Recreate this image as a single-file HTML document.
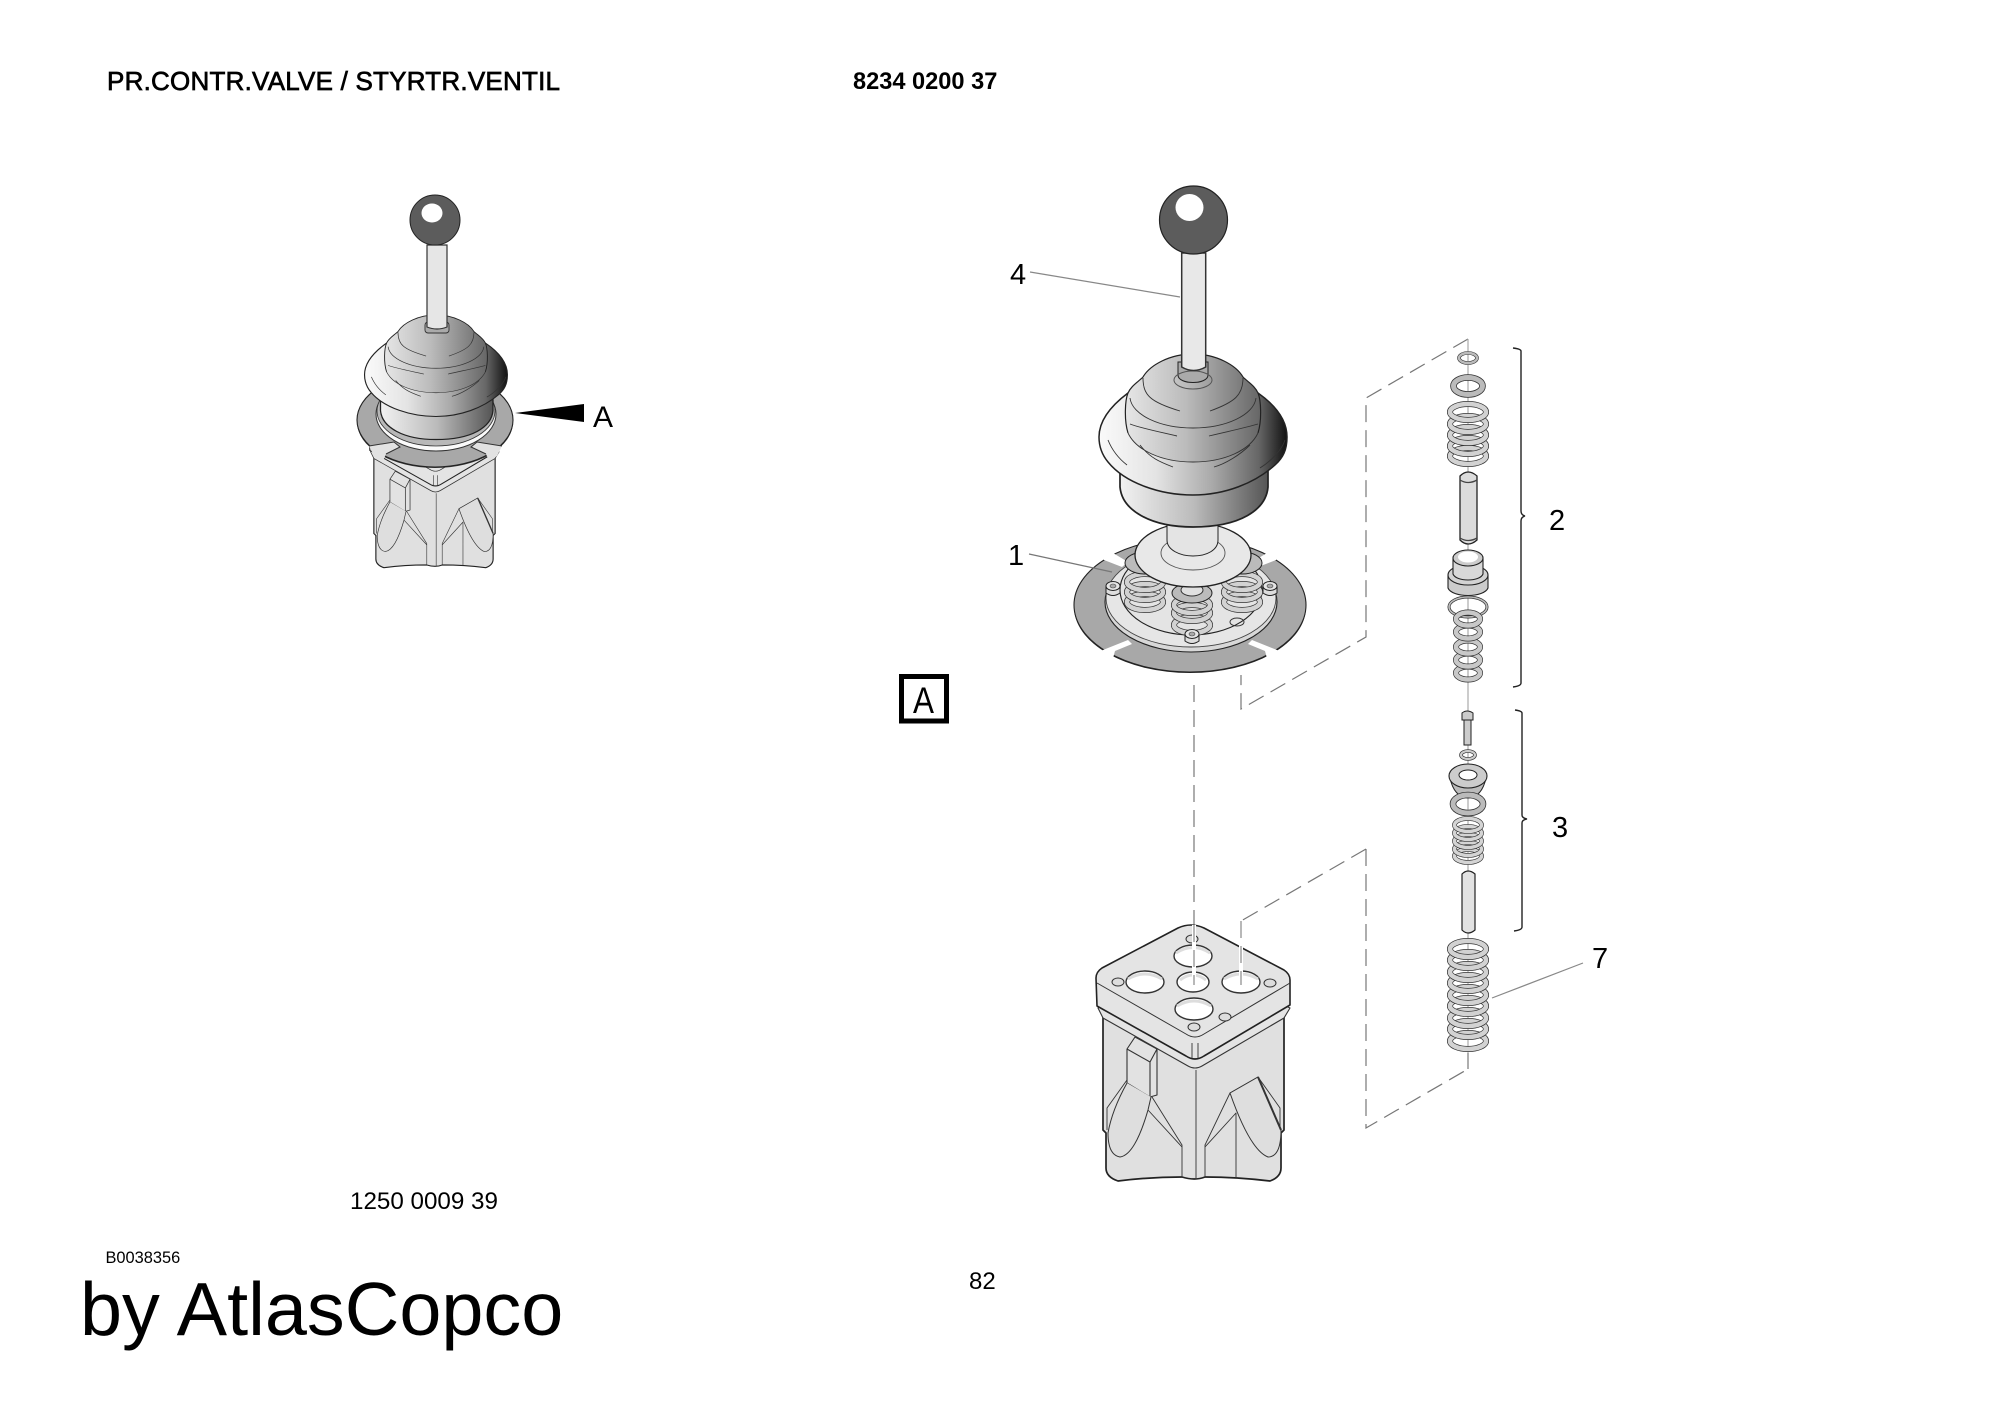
<!DOCTYPE html>
<html><head><meta charset="utf-8"><title>PR.CONTR.VALVE</title>
<style>html,body{margin:0;padding:0;background:#fff}svg{display:block}text{font-family:"Liberation Sans",Arial,sans-serif;fill:#000}</style></head>
<body>
<svg xmlns="http://www.w3.org/2000/svg" width="2000" height="1414" viewBox="0 0 2000 1414">
<defs>
<linearGradient id="gF" x1="0" x2="1" y1="0" y2="0"><stop offset="0" stop-color="#fafafa"/><stop offset=".3" stop-color="#e4e4e4"/><stop offset=".6" stop-color="#aaa"/><stop offset=".85" stop-color="#666"/><stop offset="1" stop-color="#111"/></linearGradient>
<linearGradient id="gD" x1="0" x2="1" y1="0" y2="0"><stop offset="0" stop-color="#e6e6e6"/><stop offset=".45" stop-color="#bbb"/><stop offset="1" stop-color="#666"/></linearGradient>
<linearGradient id="gC" x1="0" x2="1" y1="0" y2="0"><stop offset="0" stop-color="#f2f2f2"/><stop offset=".5" stop-color="#bbb"/><stop offset="1" stop-color="#555"/></linearGradient>
<g id="body" fill="none" stroke="#333" stroke-width="1.1" stroke-linejoin="round">
<path d="M1103,1015V1130L1106,1133V1168Q1106,1177 1118,1181Q1150,1177 1182,1177Q1195,1181 1205,1177Q1237,1177 1270,1181Q1281,1177 1281,1168V1133L1284,1130V1015Z" fill="#e0e0e0" stroke="#222" stroke-width="1.7"/>
<path d="M1098,1008L1103,1018L1188,1066Q1195,1070 1202,1066L1284,1018L1290,1008L1195,960Z" fill="#e4e4e4"/>
<path d="M1096,978Q1096,972 1102,968L1178,928Q1191,922 1204,928L1284,970Q1290,974 1290,980V1005L1204,1056Q1195,1062 1186,1056L1097,1006Z" fill="#e4e4e4" stroke="#222" stroke-width="1.6"/>
<path d="M1097,983L1186,1034Q1195,1040 1204,1034L1290,983" stroke-width="1"/>
<path d="M1192,1043V1058M1198,1043V1058M1196,1070V1178" stroke-width=".9"/>
<path d="M1135,1037L1127,1049V1083L1150,1097L1157,1095V1049ZM1127,1049L1150,1062L1157,1049M1150,1062V1097" fill="#e2e2e2" stroke-width="1.1"/>
<path d="M1127,1083Q1112,1110 1108,1133Q1108,1155 1120,1157Q1135,1155 1148,1110L1151,1097" fill="#dedede" stroke-width="1"/>
<path d="M1127,1080L1107,1108V1130M1152,1097L1182,1145V1177M1148,1110L1182,1147M1205,1177V1145L1230,1093L1258,1077L1280,1108V1130M1205,1147L1236,1113V1178" stroke-width=".9"/>
<path d="M1230,1093L1258,1077L1281,1130Q1281,1157 1268,1157Q1250,1150 1230,1093Z" fill="#dedede" stroke-width="1"/>
<path d="M1258,1077L1281,1130" stroke-width="2"/>
<g fill="#fff" stroke-width="1.4">
<ellipse cx="1193" cy="956" rx="19" ry="11"/><ellipse cx="1193" cy="982" rx="16" ry="10"/><ellipse cx="1145" cy="982" rx="19" ry="11"/><ellipse cx="1241" cy="982" rx="19" ry="11"/><ellipse cx="1194" cy="1009" rx="19" ry="11"/>
</g>
<g fill="#ddd" stroke-width="1">
<ellipse cx="1192" cy="939" rx="6" ry="4"/><ellipse cx="1118" cy="982" rx="6" ry="4"/><ellipse cx="1270" cy="983" rx="6" ry="4"/><ellipse cx="1225" cy="1017" rx="6" ry="4"/><ellipse cx="1194" cy="1027" rx="6" ry="4"/>
</g>
<g stroke="#ddd" stroke-width="3">
<path d="M1176,953Q1193,942 1210,953M1180,980Q1193,970 1206,980M1128,979Q1145,969 1162,979M1224,979Q1241,969 1258,979M1177,1006Q1194,996 1211,1006"/>
</g>
</g>
<g id="boot" stroke="#222" stroke-width="1.4" fill="none">
<path d="M1120,470V487C1122,510 1150,527 1193,527C1240,527 1266,510 1268,487V470Z" fill="url(#gC)" stroke-width="1.7"/>
<path d="M1128,393C1112,405 1099,420 1099,437C1099,448 1103,456 1108,462C1125,483 1160,495 1193,495C1225,495 1255,483 1275,465C1283,458 1287,450 1287,437C1287,420 1275,405 1258,393Z" fill="url(#gF)" stroke-width="1.5"/>
<path d="M1128,433C1124,420 1125,400 1128,393C1131,386 1138,382 1143,377C1150,365 1170,354 1193,354C1216,354 1236,365 1243,377C1248,382 1255,386 1258,393C1261,400 1262,420 1258,433C1250,450 1225,462 1193,462C1161,462 1136,450 1128,433Z" fill="url(#gD)" stroke="none"/>
<path d="M1128,433C1124,420 1125,400 1128,393C1131,386 1138,382 1143,377C1150,365 1170,354 1193,354C1216,354 1236,365 1243,377C1248,382 1255,386 1258,393C1261,400 1262,420 1258,433" stroke-width="1.2"/>
<g stroke-width=".9" stroke="#333">
<path d="M1143,378C1143,395 1150,402 1180,411M1210,411C1235,402 1243,395 1243,378"/>
<path d="M1130,398C1132,415 1160,428 1193,428C1226,428 1254,415 1256,398"/>
<path d="M1130,424C1140,428 1160,432 1177,436M1209,436C1225,432 1245,428 1258,424"/>
<path d="M1128,433C1136,450 1161,462 1193,462C1225,462 1250,450 1258,433"/>
<path d="M1108,440C1112,450 1118,458 1127,465M1285,440C1282,450 1270,462 1260,468"/>
<path d="M1140,445C1150,458 1160,462 1173,467M1214,467C1225,464 1240,455 1250,445"/>
</g>
</g>
<g id="coil"><ellipse cx="0" cy="0" rx="18" ry="8" fill="none" stroke="#333" stroke-width="6"/><ellipse cx="0" cy="0" rx="18" ry="8" fill="none" stroke="#d2d2d2" stroke-width="4.6"/></g>
<g id="coilS"><ellipse cx="0" cy="0" rx="13.5" ry="6.5" fill="none" stroke="#333" stroke-width="4.8"/><ellipse cx="0" cy="0" rx="13.5" ry="6.5" fill="none" stroke="#d4d4d4" stroke-width="3.5"/></g>
<g id="wash"><ellipse cx="0" cy="0" rx="12" ry="6.5" fill="none" stroke="#333" stroke-width="6"/><ellipse cx="0" cy="0" rx="12" ry="6.5" fill="none" stroke="#c8c8c8" stroke-width="4.6"/></g>
<g id="bolt"><path d="M-7,-3V4Q0,9 7,4V-3" fill="#ddd" stroke="#222" stroke-width="1"/><ellipse cx="0" cy="-3" rx="7" ry="4.5" fill="#e6e6e6" stroke="#222" stroke-width="1"/><ellipse cx="0" cy="-3" rx="3" ry="2" fill="#aaa" stroke="#444" stroke-width=".6"/></g>
</defs>

<!-- titles -->
<text x="107" y="90" font-size="26" stroke="#000" stroke-width=".7" textLength="453" lengthAdjust="spacing">PR.CONTR.VALVE / STYRTR.VENTIL</text>
<text x="853" y="89" font-size="23.6" font-weight="bold">8234 0200 37</text>
<text x="350" y="1209" font-size="24.2">1250 0009 39</text>
<text x="105.5" y="1263" font-size="16.4">B0038356</text>
<text x="80" y="1335" font-size="75.6">by AtlasCopco</text>
<text x="969" y="1289" font-size="24">82</text>

<!-- LEFT UNIT -->
<use href="#body" transform="translate(-365.15,-223.6) scale(.67)"/>
<ellipse cx="435" cy="422" rx="78" ry="46" fill="#333"/>
<ellipse cx="435" cy="420" rx="78" ry="47" fill="#a8a8a8" stroke="#222" stroke-width="1.1"/>
<path d="M369,446L394,442L400,447L386,454L383,461L374,456Z" fill="#e2e2e2"/>
<path d="M502,446L477,442L471,447L486,454L489,461L497,456Z" fill="#e2e2e2"/>
<path d="M369,446L394,442L400,447L386,454M502,446L477,442L471,447L486,454" fill="none" stroke="#333" stroke-width="1"/>
<ellipse cx="436" cy="414" rx="60" ry="37" fill="#fafafa" stroke="#333" stroke-width="1"/>
<ellipse cx="436" cy="411" rx="59" ry="35" fill="#b8b8b8" stroke="#333" stroke-width=".8"/>
<use href="#boot" transform="translate(-470.7,60.1) scale(.76,.72)"/>
<rect x="425" y="322" width="24" height="11" rx="3" fill="#aaa" stroke="#333" stroke-width=".9"/>
<path d="M427,245V327Q437,331 447,327V245Z" fill="#e6e6e6" stroke="#333" stroke-width="1.2"/>
<circle cx="435" cy="220" r="25" fill="#5c5c5c" stroke="#222" stroke-width="1"/>
<ellipse cx="432" cy="213" rx="10.5" ry="9.5" fill="#fff"/>
<path d="M515,413L584,404V422Z" fill="#000"/>
<text x="593" y="427" font-size="30">A</text>

<!-- dashed lines -->
<g fill="none" stroke="#777" stroke-width="1.2" stroke-dasharray="17 8">
<path d="M1468,339L1366,398V637L1241,709V675"/>
<path d="M1194,685V930"/>
<path d="M1366,849L1241,921V930"/>
<path d="M1366,849V1128L1468,1069"/>
</g>
<path d="M1468,1069V1053" stroke="#777" stroke-width="1.2"/>

<!-- RIGHT BODY -->
<use href="#body"/>
<path d="M1194,925V985M1241,921V985" stroke="#fff" stroke-width="4" fill="none"/>
<path d="M1194,925V985M1241,921V985" stroke="#888" stroke-width="1.2" stroke-dasharray="17 8" fill="none"/>

<!-- RIGHT PLATE ASSEMBLY -->
<ellipse cx="1190" cy="607" rx="116" ry="66" fill="#222"/>
<ellipse cx="1190" cy="605" rx="116" ry="67" fill="#a8a8a8" stroke="#222" stroke-width="1.1"/>
<g fill="#fff" stroke="none">
<path d="M1097,655L1103,650L1128,640L1132,644L1115,651L1112,662L1095,662Z"/>
<path d="M1283,655L1277,650L1252,640L1248,644L1265,651L1268,662L1285,662Z"/>
<path d="M1100,550L1113,553L1128,562L1122,567L1104,560Z"/>
<path d="M1280,550L1267,553L1252,562L1258,567L1276,560Z"/>
</g>
<ellipse cx="1191" cy="602" rx="86" ry="50" fill="#d8d8d8" stroke="#222" stroke-width="1.1"/>
<ellipse cx="1191" cy="598" rx="85" ry="49" fill="#e6e6e6" stroke="#444" stroke-width=".9"/>
<ellipse cx="1191" cy="590" rx="71" ry="45" fill="#e4e4e4" stroke="#222" stroke-width="1.1"/>
<path d="M1029,554L1112,572" stroke="#777" stroke-width="1.2" fill="none"/>
<path d="M1029,556L1116,575" stroke="#fff" stroke-width="0" fill="none"/>
<g>
<use href="#coil" x="1145" y="602"/><use href="#coil" x="1145" y="592"/><use href="#coil" x="1145" y="582"/>
<use href="#coil" x="1242" y="602"/><use href="#coil" x="1242" y="592"/><use href="#coil" x="1242" y="582"/>
<ellipse cx="1145" cy="563" rx="20" ry="11" fill="#bbb" stroke="#222"/>
<ellipse cx="1242" cy="563" rx="20" ry="11" fill="#bbb" stroke="#222"/>
<use href="#coil" x="1192" y="625"/><use href="#coil" x="1192" y="613"/><use href="#coil" x="1192" y="605"/>
<ellipse cx="1192" cy="593" rx="20" ry="10" fill="#bbb" stroke="#222"/>
<ellipse cx="1192" cy="590" rx="11" ry="6" fill="#e0e0e0" stroke="#333"/>
</g>
<use href="#bolt" x="1113" y="589"/><use href="#bolt" x="1270" y="589"/><use href="#bolt" x="1192" y="637"/>
<ellipse cx="1237" cy="622" rx="7" ry="4" fill="none" stroke="#333"/>
<ellipse cx="1193" cy="555" rx="58" ry="32" fill="#e8e8e8" stroke="#222" stroke-width="1.3"/>
<ellipse cx="1193" cy="553" rx="32" ry="17" fill="#e8e8e8" stroke="#555" stroke-width=".9"/>
<path d="M1167,510V540C1167,550 1180,556 1193,556C1207,556 1218,550 1218,540V510Z" fill="#e4e4e4" stroke="#222" stroke-width="1"/>
<path d="M1177,515Q1193,527 1213,515" fill="none" stroke="#444"/>
<!-- boot on top -->
<use href="#boot"/>
<path d="M1178,362V375C1178,385 1208,385 1208,375V362Z" fill="#aaa" stroke="#222"/>
<ellipse cx="1193" cy="380" rx="19" ry="9" fill="none" stroke="#555"/>
<path d="M1181.7,253V367Q1193.5,374 1205.7,367V253Z" fill="#e8e8e8" stroke="#333" stroke-width="1.5"/>
<circle cx="1193.5" cy="220" r="34" fill="#5c5c5c" stroke="#222" stroke-width="1.2"/>
<ellipse cx="1189.5" cy="207.5" rx="14" ry="13.5" fill="#fff"/>
<path d="M1030,272L1180,297" stroke="#888" stroke-width="1.2"/>
<text x="1010" y="284" font-size="29">4</text>
<text x="1008" y="565" font-size="29">1</text>

<!-- A box -->
<rect x="901.5" y="676.5" width="45" height="44.5" fill="none" stroke="#000" stroke-width="5"/>
<text transform="translate(913,713) scale(.85,1)" x="0" y="0" font-size="37">A</text>

<!-- COLUMN -->
<path d="M1468,339V1053" stroke="#aaa" stroke-width="1.2"/>
<ellipse cx="1468" cy="358" rx="9" ry="5" fill="none" stroke="#333" stroke-width="3.6"/><ellipse cx="1468" cy="358" rx="9" ry="5" fill="none" stroke="#bbb" stroke-width="2.4"/>
<ellipse cx="1468" cy="386" rx="14.5" ry="8.5" fill="none" stroke="#333" stroke-width="6.6"/><ellipse cx="1468" cy="386" rx="14.5" ry="8.5" fill="none" stroke="#bbb" stroke-width="5"/>
<use href="#coil" x="1468" y="456"/><use href="#coil" x="1468" y="446"/><use href="#coil" x="1468" y="435"/><use href="#coil" x="1468" y="424"/><use href="#coil" x="1468" y="412"/>
<path d="M1460,476V540Q1468,548 1477,540V476Q1468,468 1460,476Z" fill="#dcdcdc" stroke="#222" stroke-width="1.3"/>
<path d="M1460,480Q1468,485 1477,480M1460,538Q1468,543 1477,538" fill="none" stroke="#444" stroke-width="1.3"/>
<path d="M1448,575V588C1452,598 1484,598 1488,588V575Z" fill="#ccc" stroke="#222" stroke-width="1.1"/>
<ellipse cx="1468" cy="575" rx="20" ry="10" fill="#d2d2d2" stroke="#222" stroke-width="1.1"/>
<path d="M1453,558V574C1456,582 1480,582 1483,574V558Z" fill="#d8d8d8" stroke="#222" stroke-width="1.1"/>
<ellipse cx="1468" cy="558" rx="15" ry="8" fill="#ccc" stroke="#222" stroke-width="1.1"/>
<ellipse cx="1468" cy="557" rx="10" ry="5.5" fill="#fff"/>
<ellipse cx="1468" cy="607" rx="19" ry="10" fill="none" stroke="#333" stroke-width="3"/><ellipse cx="1468" cy="607" rx="19" ry="10" fill="none" stroke="#bbb" stroke-width="1.6"/>
<use href="#wash" x="1468" y="673"/><use href="#wash" x="1468" y="660"/><use href="#wash" x="1468" y="647"/><use href="#wash" x="1468" y="632"/><use href="#wash" x="1468" y="619"/>
<path d="M1521,351Q1521,349 1513,348M1513,687Q1521,686 1521,683V521Q1521,517 1525,516Q1521,515 1521,511V351" fill="none" stroke="#222" stroke-width="1.4"/>
<text x="1549" y="530" font-size="29">2</text>

<path d="M1464,720V745H1471V720Z" fill="#ccc" stroke="#222"/>
<path d="M1462,713Q1467,709 1473,713V720H1462Z" fill="#ccc" stroke="#222"/>
<ellipse cx="1468" cy="755" rx="7" ry="4" fill="none" stroke="#333" stroke-width="3.6"/><ellipse cx="1468" cy="755" rx="7" ry="4" fill="none" stroke="#ccc" stroke-width="2.2"/>
<path d="M1450,778Q1454,797 1468,798Q1482,797 1486,778Z" fill="#bbb" stroke="#222"/>
<ellipse cx="1468" cy="776" rx="19" ry="12" fill="#ccc" stroke="#222" stroke-width="1.1"/>
<ellipse cx="1468" cy="775" rx="9" ry="5" fill="#fff" stroke="#222"/>
<ellipse cx="1468" cy="804" rx="15" ry="9" fill="none" stroke="#333" stroke-width="6.6"/><ellipse cx="1468" cy="804" rx="15" ry="9" fill="none" stroke="#bbb" stroke-width="5"/>
<use href="#coilS" x="1468" y="856"/><use href="#coilS" x="1468" y="849"/><use href="#coilS" x="1468" y="841"/><use href="#coilS" x="1468" y="833"/><use href="#coilS" x="1468" y="825"/>
<path d="M1462,874V930Q1468,936 1475,930V874Q1468,868 1462,874Z" fill="#e2e2e2" stroke="#222" stroke-width="1.2"/>
<path d="M1522,713Q1522,711 1515,710M1514,931Q1522,930 1522,927V823Q1522,820 1527,819Q1522,818 1522,815V713" fill="none" stroke="#222" stroke-width="1.4"/>
<text x="1552" y="837" font-size="29">3</text>

<use href="#coil" x="1468" y="1041"/><use href="#coil" x="1468" y="1029"/><use href="#coil" x="1468" y="1018"/><use href="#coil" x="1468" y="1006"/><use href="#coil" x="1468" y="995"/><use href="#coil" x="1468" y="983"/><use href="#coil" x="1468" y="972"/><use href="#coil" x="1468" y="960"/><use href="#coil" x="1468" y="949"/>
<path d="M1492,998L1583,963" stroke="#888" stroke-width="1.2"/>
<text x="1592" y="968" font-size="29">7</text>
</svg>
</body></html>
